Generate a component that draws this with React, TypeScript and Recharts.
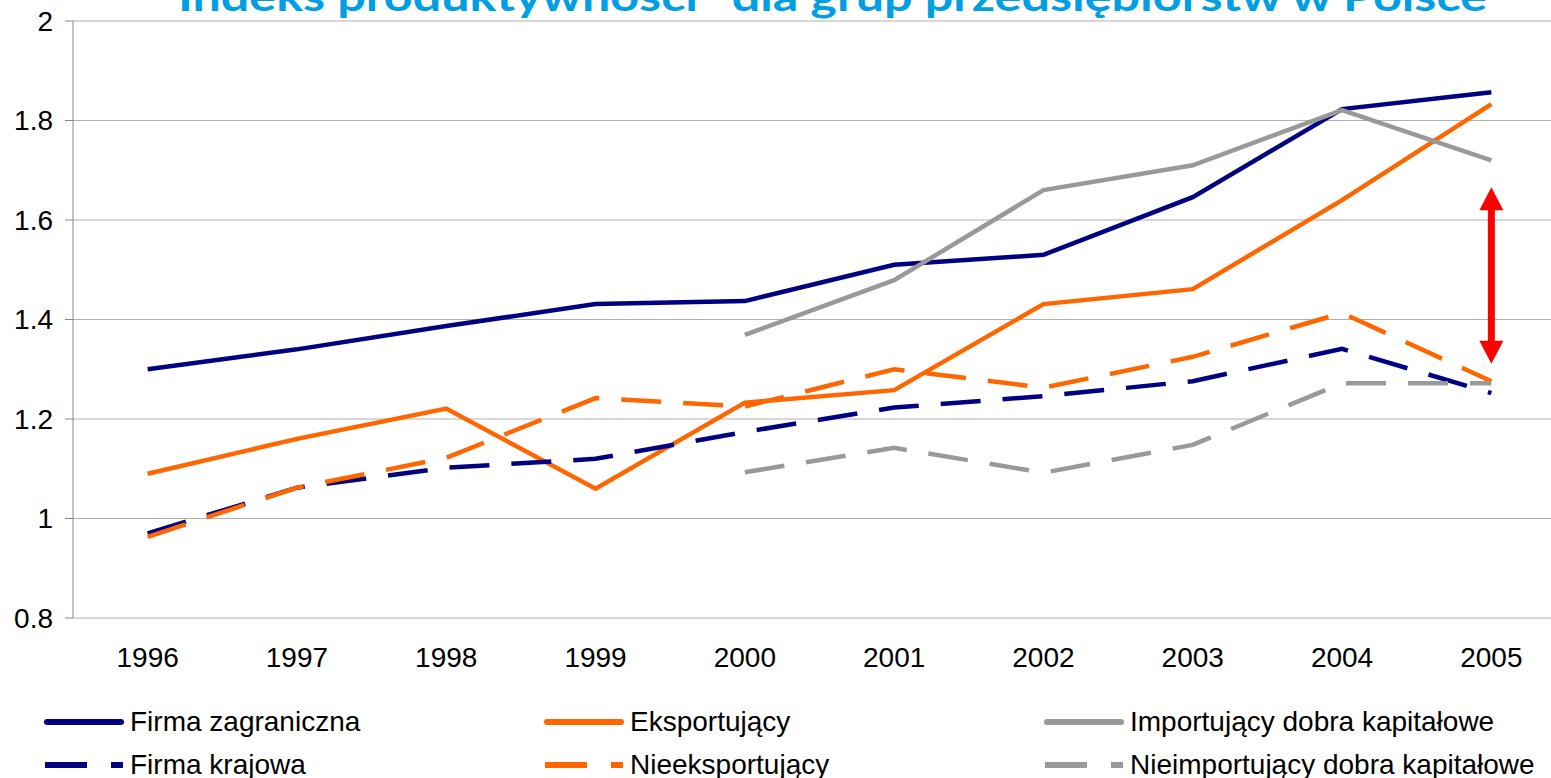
import React from 'react';
import { LineChart, Line, XAxis, YAxis, CartesianGrid, Legend, ReferenceLine } from 'recharts';

const titleText = 'Indeks produktywności* dla grup przedsiębiorstw w Polsce';
const categories = ['1996', '1997', '1998', '1999', '2000', '2001', '2002', '2003', '2004', '2005'];
const firmaZagraniczna = [1.3, 1.34, 1.387, 1.431, 1.437, 1.51, 1.53, 1.646, 1.823, 1.857];
const eksportujacy = [1.09, 1.16, 1.221, 1.06, 1.233, 1.258, 1.431, 1.461, 1.64, 1.833];
const importujacy = [null, null, null, null, 1.369, 1.479, 1.66, 1.71, 1.821, 1.72];
const firmaKrajowa = [0.97, 1.062, 1.102, 1.12, 1.174, 1.223, 1.246, 1.276, 1.341, 1.252];
const nieeksportujacy = [0.963, 1.062, 1.122, 1.242, 1.225, 1.3, 1.263, 1.325, 1.413, 1.276];
const nieimportujacy = [null, null, null, null, 1.093, 1.142, 1.092, 1.148, 1.272, 1.272];
const yTicks = [0.8, 1, 1.2, 1.4, 1.6, 1.8, 2];
const arrowYear = '2005';
const arrowRange = [1.311, 1.666];

const FONT = '"Liberation Sans", Arial, Helvetica, sans-serif';
const NAVY = '#000080';
const ORANGE = '#FF6600';
const GREY = '#999999';
const DASH = '40 22';

const series = [
  { key: 'fz', name: 'Firma zagraniczna', values: firmaZagraniczna, color: NAVY, dash: undefined },
  { key: 'ek', name: 'Eksportujący', values: eksportujacy, color: ORANGE, dash: undefined },
  { key: 'im', name: 'Importujący dobra kapitałowe', values: importujacy, color: GREY, dash: undefined },
  { key: 'fk', name: 'Firma krajowa', values: firmaKrajowa, color: NAVY, dash: DASH },
  { key: 'ne', name: 'Nieeksportujący', values: nieeksportujacy, color: ORANGE, dash: DASH },
  { key: 'ni', name: 'Nieimportujący dobra kapitałowe', values: nieimportujacy, color: GREY, dash: DASH },
];

const data = categories.map((c, i) => {
  const row: Record<string, any> = { pos: i + 0.5, year: c };
  series.forEach((s) => {
    row[s.key] = s.values[i];
  });
  return row;
});

const centerTicks = categories.map((_, i) => i + 0.5);
const boundTicks = [...categories.map((_, i) => i), categories.length];

const ArrowShape = (props: any) => {
  const { x1, y1, x2, y2 } = props;
  const top = Math.min(y1, y2);
  const bot = Math.max(y1, y2);
  const x = x1;
  const hl = 23;
  const hw = 12;
  return (
    <g>
      <line x1={x} x2={x2} y1={top + hl - 1} y2={bot - hl + 1} stroke="#FF0000" strokeWidth={7} />
      <polygon points={`${x},${top} ${x - hw},${top + hl} ${x + hw},${top + hl}`} fill="#FF0000" />
      <polygon points={`${x},${bot} ${x - hw},${bot - hl} ${x + hw},${bot - hl}`} fill="#FF0000" />
    </g>
  );
};

const renderLegend = () => (
  <div style={{ position: 'relative', width: 1551, height: 78, fontFamily: FONT }}>
    {series.map((s, i) => {
      const col = i % 3;
      const row = Math.floor(i / 3);
      return (
        <div
          key={s.key}
          style={{
            position: 'absolute',
            left: 43 + col * 500,
            top: 5 + row * 43,
            height: 34,
            display: 'flex',
            alignItems: 'center',
            whiteSpace: 'nowrap',
          }}
        >
          <svg width={84} height={20} style={{ display: 'block' }}>
            <line
              x1={s.dash ? 2 : 4}
              x2={s.dash ? 80 : 78}
              y1={10}
              y2={10}
              stroke={s.color}
              strokeWidth={6}
              strokeDasharray={s.dash ? '42 24' : undefined}
              strokeLinecap={s.dash ? 'butt' : 'round'}
            />
          </svg>
          <span style={{ fontSize: 28, color: '#000', marginLeft: 3, lineHeight: '34px' }}>{s.name}</span>
        </div>
      );
    })}
  </div>
);

export default function App() {
  return (
    <div
      style={{
        position: 'absolute',
        left: 0,
        top: 0,
        width: 1551,
        height: 778,
        overflow: 'hidden',
        background: '#fff',
        fontFamily: FONT,
      }}
    >
      <svg width={1551} height={40} style={{ position: 'absolute', left: 0, top: 0, zIndex: 2 }}>
        <text
          x={178}
          y={11}
          fill="#009FE3"
          fontSize={40}
          fontWeight="bold"
          fontFamily='Lato, "Open Sans", sans-serif'
          textLength={1309}
          lengthAdjust="spacingAndGlyphs"
        >
          {titleText}
        </text>
      </svg>
      <LineChart
        width={1600}
        height={778}
        data={data}
        margin={{ top: 21, right: 34, left: 0, bottom: 32 }}
        style={{ fontFamily: FONT }}
      >
        <CartesianGrid horizontal vertical={false} stroke="#b0b0b0" strokeWidth={1} />
        <XAxis
          xAxisId="bounds"
          type="number"
          dataKey="pos"
          domain={[0, categories.length]}
          ticks={boundTicks}
          tick={false}
          tickSize={8}
          tickLine={{ stroke: '#333' }}
          axisLine={{ stroke: '#333' }}
          height={0}
          allowDataOverflow
        />
        <XAxis
          xAxisId="labels"
          type="number"
          dataKey="pos"
          domain={[0, categories.length]}
          ticks={centerTicks}
          tickFormatter={(v: number) => categories[Math.floor(v)]}
          tickLine={false}
          axisLine={false}
          tickSize={8}
          tickMargin={21}
          tick={{ fontSize: 28, fill: '#000', fontFamily: FONT }}
          height={50}
          interval={0}
          allowDataOverflow
        />
        <YAxis
          domain={[0.8, 2]}
          ticks={yTicks}
          type="number"
          width={73}
          tickSize={8}
          tickMargin={12}
          axisLine={{ stroke: '#888' }}
          tickLine={{ stroke: '#888' }}
          tick={{ fontSize: 28, fill: '#000', fontFamily: FONT }}
          tickFormatter={(v: number) => String(v)}
          interval={0}
          allowDataOverflow
        />
        {series.map((s) => (
          <Line
            key={s.key}
            xAxisId="labels"
            type="linear"
            dataKey={s.key}
            name={s.name}
            stroke={s.color}
            strokeWidth={4.5}
            strokeDasharray={s.dash}
            dot={false}
            activeDot={false}
            isAnimationActive={false}
            connectNulls={false}
          />
        ))}
        <ReferenceLine
          xAxisId="labels"
          segment={[
            { x: categories.indexOf(arrowYear) + 0.5, y: arrowRange[0] },
            { x: categories.indexOf(arrowYear) + 0.5, y: arrowRange[1] },
          ]}
          shape={ArrowShape}
          ifOverflow="visible"
        />
        <Legend
          content={renderLegend}
          wrapperStyle={{ position: 'absolute', left: 0, top: 700, width: 1551, height: 78 }}
        />
      </LineChart>
    </div>
  );
}
